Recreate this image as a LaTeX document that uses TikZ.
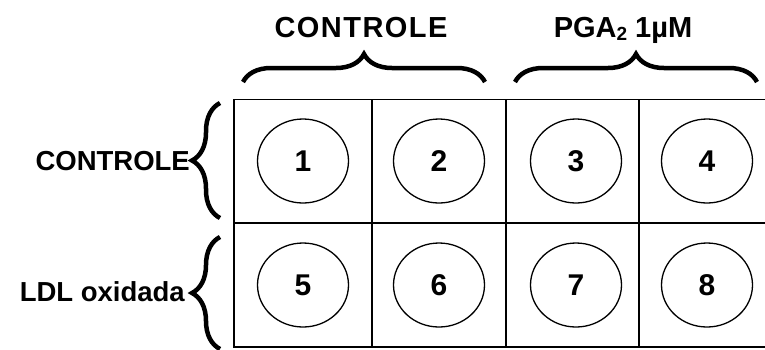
\documentclass[tikz,border=0pt]{standalone}
\usepackage{fontspec}
\setmainfont{Liberation Sans}
\usetikzlibrary{shapes.geometric,decorations.pathreplacing}
\begin{document}
\begin{tikzpicture}[x=1pt,y=-1pt,
 well/.style={ellipse,draw,line width=1.3pt,minimum width=91pt,minimum height=84pt,inner sep=0pt,font=\bfseries\fontsize{30}{30}\selectfont},
 lab/.style={font=\bfseries\fontsize{27.5}{27.5}\selectfont,inner sep=0pt,anchor=base},
 brc/.style={decorate,decoration={brace,amplitude=28pt},line width=4.5pt},
 gridline/.style={line width=1.5pt}]
\useasboundingbox (0,0) rectangle (765,349);
\clip (0,0) rectangle (765,349);
% grid
\draw[gridline] (234,99.5) rectangle (773,347);
\draw[gridline] (234,223) -- (773,223);
\foreach \x in {372,506,639} \draw[gridline] (\x,99.5) -- (\x,347);
% wells
\node[well] (w1) at (303,161) {1};
\node[well] (w2) at (439,161) {2};
\node[well] (w3) at (576,161) {3};
\node[well] (w4) at (707,161) {4};
\node[well] (w5) at (303,285) {5};
\node[well] (w6) at (439,285) {6};
\node[well] (w7) at (576,285) {7};
\node[well] (w8) at (707,285) {8};
% top labels
\node[lab,font=\bfseries\fontsize{29}{29}\selectfont\addfontfeatures{LetterSpace=5}] (tc) at (361,37) {CONTROLE};
\node[lab,font=\bfseries\fontsize{29}{29}\selectfont] (tp) at (623,37) {PGA{\fontsize{19}{19}\selectfont\raisebox{-3pt}{2}} 1µM};
% left labels
\node[lab,anchor=base east] (lc) at (190,170) {CONTROLE};
\node[lab,anchor=base east] (ll) at (185,301.7) {LDL oxidada};
% braces
\draw[brc] (243,82) -- (485,82);
\draw[brc] (515,82) -- (757,82);
\draw[brc] (220,218) -- (220,103);
\draw[brc] (220,349) -- (220,237);
\end{tikzpicture}
\end{document}
